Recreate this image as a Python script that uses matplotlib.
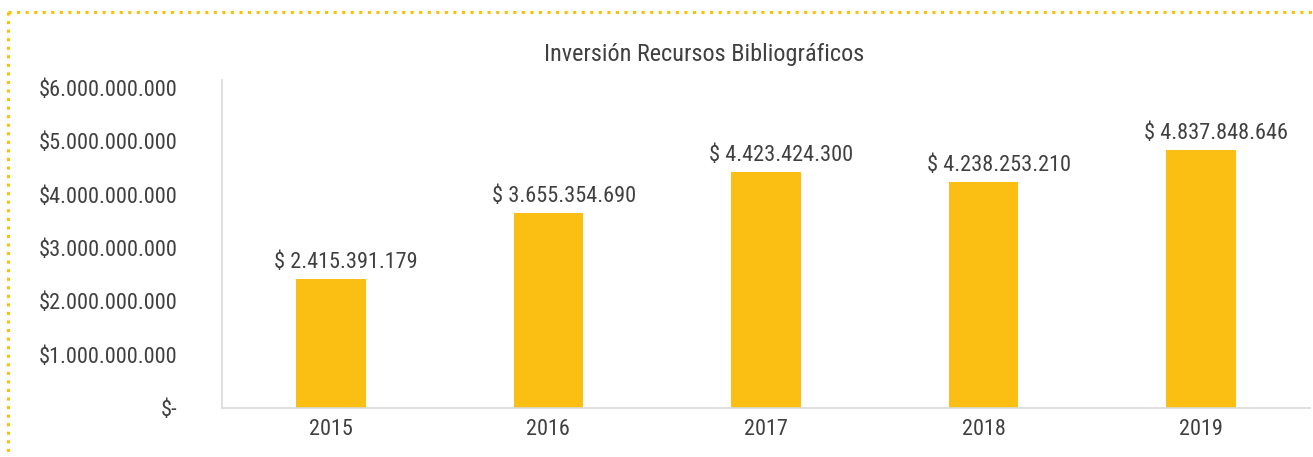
import matplotlib
matplotlib.use("Agg")
import matplotlib.pyplot as plt
from matplotlib.lines import Line2D
from matplotlib.ticker import FuncFormatter
from matplotlib import font_manager
from matplotlib.transforms import offset_copy

years = ["2015", "2016", "2017", "2018", "2019"]
values = [2415391179, 3655354690, 4423424300, 4238253210, 4837848646]
yticks = [0, 1e9, 2e9, 3e9, 4e9, 5e9, 6e9]
title = "Inversión Recursos Bibliográficos"

avail = {f.name for f in font_manager.fontManager.ttflist}
fam = None
for cand in ["Roboto Condensed", "Liberation Sans Narrow", "Open Sans Condensed", "DejaVu Sans"]:
    if cand in avail:
        fam = cand
        break
plt.rcParams['font.family'] = [fam, 'DejaVu Sans']
stretch = 'condensed' if fam == 'DejaVu Sans' else 'normal'
txtc = '#404040'

W, H = 1313, 457
fig = plt.figure(figsize=(W / 100, H / 100), dpi=100)
ax = fig.add_axes([222 / W, 1 - 408 / H, (1310 - 222) / W, (408 - 80) / H])

def fmt(v):
    return f"{int(round(v)):,}".replace(",", ".")

ax.bar(range(len(years)), values, width=0.32, color='#FBBF14', zorder=2)
lab_tr = offset_copy(ax.transData, fig=fig, x=11, y=0, units='points')
for i, v in enumerate(values):
    ax.text(i, v + 1.2e8, "$ " + fmt(v), ha='center', va='bottom', fontsize=16,
            color=txtc, fontstretch=stretch, transform=lab_tr)

ax.set_xlim(-0.5, len(years) - 0.5)
ax.set_ylim(0, 6.15e9)
ax.set_yticks(yticks)
ax.yaxis.set_major_formatter(FuncFormatter(lambda v, p: "$-" if v == 0 else "$" + fmt(v)))
ax.set_xticks(range(len(years)))
ax.set_xticklabels(years)
for lab in ax.get_xticklabels() + ax.get_yticklabels():
    lab.set_fontsize(16)
    lab.set_color(txtc)
    lab.set_fontstretch(stretch)
ax.tick_params(axis='both', length=0)
ax.tick_params(axis='y', pad=32)
ax.tick_params(axis='x', pad=8)
for s in ['top', 'right']:
    ax.spines[s].set_visible(False)
for s in ['left', 'bottom']:
    ax.spines[s].set_color('#d9d9d9')
    ax.spines[s].set_linewidth(1.2)

fig.text(704 / W, 1 - 54 / H, title, ha='center', va='center', fontsize=17.5,
         color=txtc, fontstretch=stretch)

# dotted border
fig.add_artist(Line2D([8 / W, 1.0], [1 - 12 / H, 1 - 12 / H], transform=fig.transFigure,
                      color='#FFC000', linestyle=(0, (1, 1.8)), linewidth=2.2))
fig.add_artist(Line2D([8 / W, 8 / W], [1 - 12 / H, 0], transform=fig.transFigure,
                      color='#FFC000', linestyle=(0, (1, 1.8)), linewidth=2.2))

fig.savefig("out.png", dpi=100, facecolor='white')
